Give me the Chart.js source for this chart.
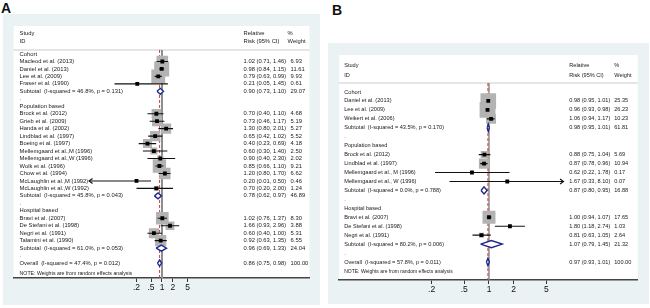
<!DOCTYPE html>
<html>
<head>
<meta charset="utf-8">
<script src="https://cdn.jsdelivr.net/npm/chart.js@4.4.0/dist/chart.umd.min.js"></script>
<style>
  body { margin: 0; background: #fff; width: 650px; height: 308px; position: relative; overflow: hidden;
         font-family: "Liberation Sans", Arial, sans-serif; }
  .tag { position: absolute; font-weight: bold; font-size: 14px; line-height: 14px; color: #111; }
  canvas { position: absolute; }
</style>
</head>
<body>
<div class="tag" style="left:1px;top:1px">A</div>
<div class="tag" style="left:332px;top:3px">B</div>
<canvas id="chartA" width="317" height="291" style="left:3px;top:14px"></canvas>
<canvas id="chartB" width="321" height="261" style="left:328px;top:43px"></canvas>
<script>
// tick labels shared by both panels
const tickVals = [0.2, 0.5, 1, 2, 5];

// ---- panel A (rows top to bottom; g = group, s = study, t = subtotal, d = spacer, o = overall)
const labelsA = [
  'Cohort', 'Macleod et al. (2013)', 'Daniel et al. (2013)', 'Lee et al. (2009)', 'Fraser et al. (1990)',
  'Subtotal  (I-squared = 46.8%, p = 0.131)', '.',
  'Population based', 'Brock et al. (2012)', 'Grieb et al. (2009)', 'Handa et al. (2002)',
  'Lindblad et al. (1997)', 'Boeing et al. (1997)', 'Mellemgaard et al.,M (1996)', 'Mellemgaard et al.,W (1996)',
  'Wolk et al. (1996)', 'Chow et al. (1994)', 'McLaughlin et al.,M (1992)', 'McLaughlin et al.,W (1992)',
  'Subtotal  (I-squared = 45.8%, p = 0.043)', '.',
  'Hospital based', 'Bravi et al. (2007)', 'De Stefani et al. (1998)', 'Negri et al. (1991)', 'Talamini et al. (1990)',
  'Subtotal  (I-squared = 61.0%, p = 0.053)', '.',
  'Overall  (I-squared = 47.4%, p = 0.012)'
];
const kindA = ['g','s','s','s','s','t','d','g','s','s','s','s','s','s','s','s','s','s','s','t','d','g','s','s','s','s','t','d','o'];
const rrA = [null,1.02,0.98,0.79,0.21,0.90,null,null,0.70,0.73,1.30,0.65,0.40,0.60,0.90,0.85,1.20,0.20,0.70,0.78,null,null,1.02,1.66,0.60,0.92,0.96,null,0.86];
const loA = [null,0.71,0.84,0.63,0.05,0.73,null,null,0.40,0.46,0.80,0.42,0.23,0.30,0.40,0.66,0.80,0.01,0.20,0.62,null,null,0.76,0.93,0.40,0.63,0.69,null,0.75];
const hiA = [null,1.46,1.15,0.99,1.45,1.10,null,null,1.10,1.17,2.01,1.02,0.69,1.40,2.30,1.10,1.70,0.50,2.00,0.97,null,null,1.37,2.96,1.00,1.35,1.33,null,0.98];
const wtA = [null,6.93,11.61,9.93,0.61,29.07,null,null,4.68,5.19,5.27,5.52,4.18,2.50,2.02,9.21,6.62,0.46,1.24,46.89,null,null,8.30,3.88,5.31,6.55,24.04,null,100.00];

// ---- panel B
const labelsB = [
  'Cohort', 'Daniel et al. (2013)', 'Lee et al. (2009)', 'Weikert et al. (2006)',
  'Subtotal  (I-squared = 43.5%, p = 0.170)', '.',
  'Population based', 'Brock et al. (2012)', 'Lindblad et al. (1997)',
  'Mellemgaard et al., M (1996)', 'Mellemgaard et al., W (1996)',
  'Subtotal  (I-squared = 0.0%, p = 0.788)', '.',
  'Hospital based', 'Bravi et al. (2007)', 'De Stefani et al. (1998)', 'Negri et al. (1991)',
  'Subtotal  (I-squared = 80.2%, p = 0.006)', '.',
  'Overall  (I-squared = 57.8%, p = 0.011)'
];
const kindB = ['g','s','s','s','t','d','g','s','s','s','s','t','d','g','s','s','s','t','d','o'];
const rrB = [null,0.98,0.96,1.06,0.98,null,null,0.88,0.87,0.62,1.67,0.87,null,null,1.00,1.80,0.81,1.07,null,0.97];
const loB = [null,0.95,0.93,0.94,0.95,null,null,0.75,0.78,0.22,0.33,0.80,null,null,0.94,1.18,0.63,0.79,null,0.93];
const hiB = [null,1.01,0.98,1.17,1.01,null,null,1.04,0.96,1.78,8.10,0.95,null,null,1.07,2.74,1.05,1.45,null,1.01];
const wtB = [null,25.35,26.23,10.23,61.81,null,null,5.69,10.94,0.17,0.07,16.88,null,null,17.65,1.03,2.64,21.32,null,100.00];

const FONT = '"Liberation Sans", Arial, sans-serif';

function fmtTick(v) {
  return v < 1 ? String(v).replace(/^0/, '') : String(v);
}

function buildPanel(id, d, lay) {
  const n = d.labels.length;
  const datasets = [];
  const ov = d.kind.indexOf('o');

  // null line at 1 and dashed line at the overall estimate
  datasets.push({ type: 'line', data: [{ x: 1, y: lay.sepRow }, { x: 1, y: lay.yMax }],
    borderColor: '#8e8e8e', borderWidth: lay.nullW, pointRadius: 0, order: 6 });
  datasets.push({ type: 'line', data: [{ x: d.rr[ov], y: lay.sepRow }, { x: d.rr[ov], y: lay.yMax }],
    borderColor: '#c83c3c', borderWidth: 1, borderDash: [3, 2], pointRadius: 0, order: 5 });

  const boxPts = [], boxR = [], ctrPts = [];
  for (let i = 0; i < n; i++) {
    if (d.kind[i] === 's') {
      boxPts.push({ x: d.rr[i], y: i });
      boxR.push(lay.boxK * Math.sqrt(d.wt[i]) / Math.SQRT2);
      ctrPts.push({ x: d.rr[i], y: i });
      datasets.push({ type: 'line', data: [{ x: d.lo[i], y: i }, { x: d.hi[i], y: i }],
        borderColor: '#111', borderWidth: 1.1, pointRadius: 0, order: 1 });
    } else if (d.kind[i] === 't' || d.kind[i] === 'o') {
      const h = 0.4;
      datasets.push({ type: 'line',
        data: [{ x: d.lo[i], y: i }, { x: d.rr[i], y: i - h }, { x: d.hi[i], y: i }, { x: d.rr[i], y: i + h }, { x: d.lo[i], y: i }],
        borderColor: '#1c2a8c', borderWidth: 1.4, backgroundColor: '#fff', fill: 'shape',
        pointRadius: 0, tension: 0, order: 2 });
    }
  }
  datasets.push({ data: boxPts, pointStyle: 'rect', pointRadius: boxR, backgroundColor: '#b3b3b3',
    borderWidth: 0, order: 4 });
  datasets.push({ data: ctrPts, pointStyle: 'rect', pointRadius: 2.7, backgroundColor: '#000',
    borderWidth: 0, order: 0 });

  const forestText = {
    id: 'forestText',
    beforeDraw(chart) {
      const { ctx, chartArea: a, width, height } = chart;
      ctx.save();
      ctx.fillStyle = '#eaf2f3';
      ctx.fillRect(0, 0, width, height);
      ctx.fillStyle = '#fff';
      ctx.fillRect(a.left, a.top, a.right - a.left, a.bottom - a.top);
      const ys = chart.scales.y.getPixelForValue(lay.sepRow);
      ctx.strokeStyle = '#dcdcdc';
      ctx.lineWidth = 1.5;
      ctx.beginPath(); ctx.moveTo(a.left, ys); ctx.lineTo(a.right, ys); ctx.stroke();
      ctx.restore();
    },
    beforeDatasetsDraw(chart) {
      const { ctx, chartArea: a } = chart;
      const y = chart.scales.y;
      const py = r => y.getPixelForValue(r);
      const X = a.left;
      ctx.save();
      ctx.fillStyle = '#1a1a1a';
      ctx.textBaseline = 'middle';
      ctx.textAlign = 'left';
      ctx.font = lay.fs + 'px ' + FONT;
      ctx.fillText('Study', X + lay.labX, py(lay.hdr[0]));
      ctx.fillText('ID', X + lay.labX, py(lay.hdr[1]));
      ctx.fillText('Relative', X + lay.rrX, py(lay.hdr[0]));
      ctx.fillText('Risk (95% CI)', X + lay.rrX, py(lay.hdr[1]));
      ctx.fillText('%', X + lay.wtHX, py(lay.hdr[0]));
      ctx.fillText('Weight', X + lay.wtHX, py(lay.hdr[1]));
      for (let i = 0; i < n; i++) {
        ctx.fillText(d.labels[i], X + lay.labX, py(i));
        if (d.rr[i] != null) {
          ctx.fillText(d.rr[i].toFixed(2) + ' (' + d.lo[i].toFixed(2) + ', ' + d.hi[i].toFixed(2) + ')', X + lay.rrX, py(i));
          ctx.fillText(d.wt[i].toFixed(2), X + lay.wtX, py(i));
        }
      }
      ctx.font = (lay.fs - 0.6) + 'px ' + FONT;
      ctx.fillText('NOTE: Weights are from random effects analysis', X + lay.labX, py(lay.noteRow));
      ctx.restore();
    },
    afterDatasetsDraw(chart) {
      const { ctx } = chart;
      const xs = chart.scales.x, ys = chart.scales.y;
      ctx.save();
      ctx.strokeStyle = '#111';
      ctx.lineWidth = 1.1;
      const head = (x, y, dir) => {
        ctx.beginPath();
        ctx.moveTo(x - dir * 3.5, y - 2.5); ctx.lineTo(x, y); ctx.lineTo(x - dir * 3.5, y + 2.5);
        ctx.stroke();
      };
      for (let i = 0; i < n; i++) {
        if (d.kind[i] !== 's') continue;
        const y = ys.getPixelForValue(i);
        if (d.lo[i] <= lay.arrowLim[0]) head(xs.getPixelForValue(d.lo[i]), y, -1);
        if (d.hi[i] >= lay.arrowLim[1]) head(xs.getPixelForValue(d.hi[i]), y, 1);
      }
      ctx.restore();
    }
  };

  return new Chart(document.getElementById(id), {
    type: 'scatter',
    data: { datasets: datasets },
    options: {
      responsive: false,
      animation: false,
      devicePixelRatio: 1,
      layout: { padding: lay.pad },
      plugins: { legend: { display: false }, tooltip: { enabled: false } },
      scales: {
        x: {
          type: 'logarithmic',
          min: lay.xMin, max: lay.xMax,
          afterBuildTicks: s => { s.ticks = tickVals.map(v => ({ value: v })); },
          afterFit: s => { s.height = lay.axisH; },
          ticks: { callback: v => fmtTick(v), font: { family: FONT, size: 8.5 }, color: '#111',
                   padding: 1, autoSkip: false, maxRotation: 0 },
          grid: { drawOnChartArea: false, drawTicks: true, tickLength: 4, tickColor: '#333', tickWidth: 1 },
          border: { display: true, color: '#444', width: 1.5 }
        },
        y: { type: 'linear', reverse: true, min: lay.yMin, max: lay.yMax, display: false }
      }
    },
    plugins: [forestText]
  });
}

buildPanel('chartA',
  { labels: labelsA, kind: kindA, rr: rrA, lo: loA, hi: hiA, wt: wtA },
  { pad: { left: 10, right: 7, top: 12, bottom: 0 }, axisH: 27,
    xMin: Math.pow(10, -4.068), xMax: Math.pow(10, 4.041),
    yMin: -3.75, yMax: 30.0, sepRow: -0.54, hdr: [-2.8, -1.75], noteRow: 29.35,
    fs: 5.8, labX: 6, rrX: 230, wtX: 277, wtHX: 274, boxK: 4.4, nullW: 2, arrowLim: [0.01, 100] });

buildPanel('chartB',
  { labels: labelsB, kind: kindB, rr: rrB, lo: loB, hi: hiB, wt: wtB },
  { pad: { left: 10, right: 9, top: 12, bottom: 0 }, axisH: 24,
    xMin: Math.pow(10, -1.825), xMax: Math.pow(10, 1.813),
    yMin: -4.135, yMax: 21.01, sepRow: -1.0, hdr: [-3.0, -1.9], noteRow: 20.1,
    fs: 5.6, labX: 5, rrX: 230, wtX: 275, wtHX: 275, boxK: 3.1, nullW: 1.5, arrowLim: [0.05, 8] });
</script>
</body>
</html>
